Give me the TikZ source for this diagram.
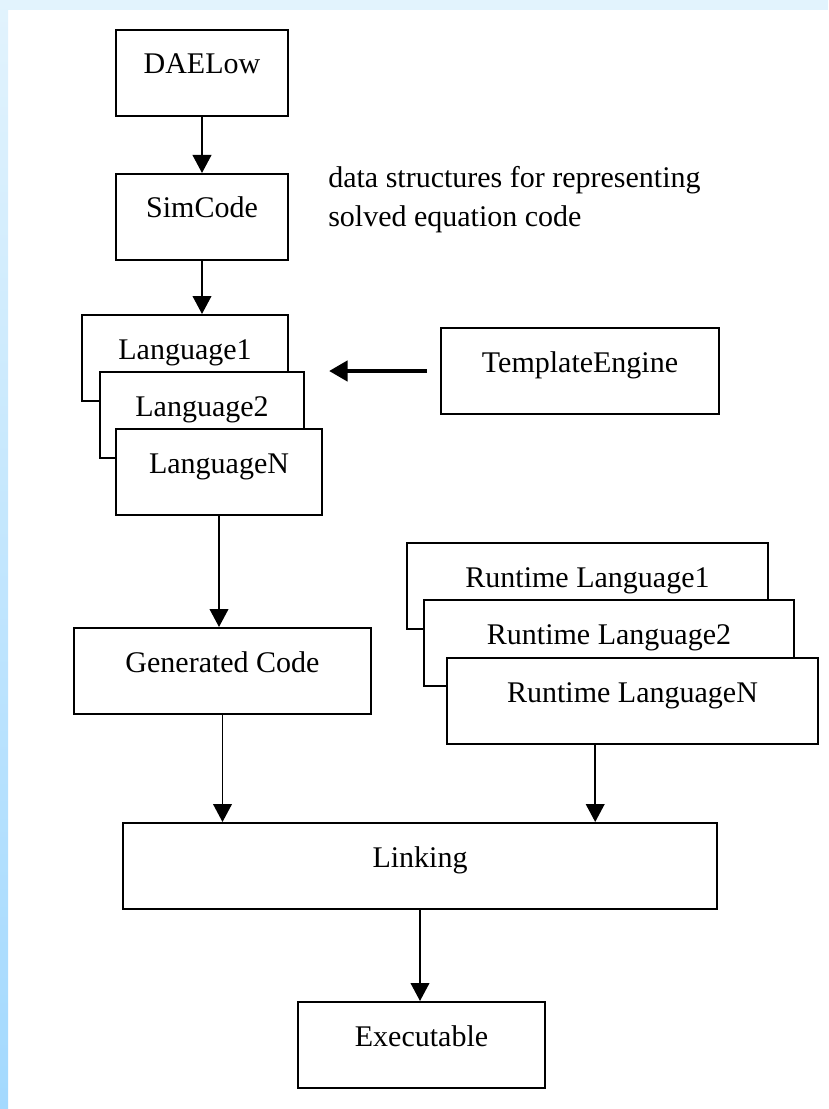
\documentclass[tikz,border=0pt]{standalone}
\usepackage{fontspec}
\setmainfont{Liberation Serif}
\usetikzlibrary{arrows.meta,calc}
\definecolor{bandtop}{HTML}{E2F3FD}
\definecolor{bandbot}{HTML}{A3D9FE}

\tikzset{
  blk/.style={draw, line width=1.5pt, fill=white, anchor=north west,
    inner xsep=0pt, inner ysep=0pt, text height=33pt, text depth=31.5pt,
    font=\fontsize{22.5}{27}\selectfont},
  flow/.style={line width=1.4pt, -{Triangle[length=13.5pt,width=14pt]}},
  feed/.style={line width=3.6pt, -{Triangle[length=14pt,width=15pt]}},
}

\begin{document}
\begin{tikzpicture}[x=0.75pt,y=0.75pt,yscale=-1,xscale=1]
\useasboundingbox (0,0) rectangle (828,1109);
% frame
\fill[bandtop] (0,0) rectangle (828,10);
\shade[top color=bandtop, bottom color=bandbot] (0,0) rectangle (8,1109);

% Text Node
\node[blk, minimum width=129pt] (dae) at (115,29) {DAELow};
% Text Node
\node[blk, minimum width=129pt] (sim) at (115,173) {SimCode};
% Text Node
\node[anchor=north west, inner sep=0pt, align=left,
  font=\fontsize{22.5}{29}\selectfont] (note) at (328,166)
  {data structures for representing\\solved equation code};
% Text Node
\node[blk, minimum width=154.5pt] (lang1) at (81,314) {Language1};
% Text Node
\node[blk, minimum width=153pt] (lang2) at (99,371) {Language2};
% Text Node
\node[blk, minimum width=154.5pt] (langn) at (115,428) {LanguageN};
% Text Node
\node[blk, minimum width=208.5pt] (tpl) at (440,327) {TemplateEngine};
% Text Node
\node[blk, minimum width=270.75pt] (rt1) at (406,542) {Runtime Language1};
% Text Node
\node[blk, minimum width=277.5pt] (rt2) at (423,599) {Runtime Language2};
% Text Node
\node[blk, minimum width=278.25pt] (rtn) at (446,657) {Runtime LanguageN};
% Text Node
\node[blk, minimum width=222.75pt] (gen) at (73,627) {Generated Code};
% Text Node
\node[blk, minimum width=445.5pt] (link) at (122,822) {Linking};
% Text Node
\node[blk, minimum width=185.25pt] (exe) at (297,1001) {Executable};

% Connection
\draw[flow] (dae.south) -- (sim.north);
% Connection
\draw[flow] (sim.south) -- (sim.south |- lang1.north);
% Connection
\draw[feed] ([xshift=-9.75pt]tpl.west) -- ([xshift=18pt]lang2.east |- tpl.west);
% Connection
\draw[flow] (langn.south) -- (langn.south |- gen.north);
% Connection
\draw[flow] (gen.south) -- (gen.south |- link.north);
% Connection
\draw[flow] ($(rtn.south west)!0.4!(rtn.south east)$) coordinate (rtdrop)
  -- (rtdrop |- link.north);
% Connection
\draw[flow] (link.south) -- (link.south |- exe.north);

\end{tikzpicture}
\end{document}
